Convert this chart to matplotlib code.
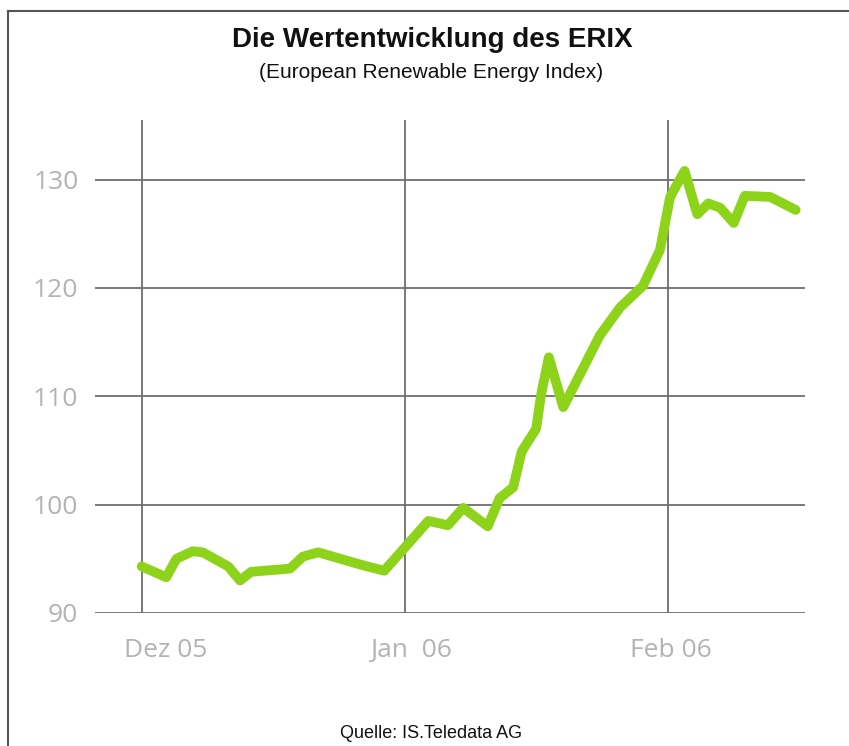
import matplotlib
matplotlib.use("Agg")
import matplotlib.pyplot as plt
from matplotlib.transforms import ScaledTranslation
from matplotlib.lines import Line2D

# ---- data (days since 1 Dec 2005, ERIX index value) ----
days = [0, 2.9, 4.1, 6.0, 7.2, 10.2, 11.6, 12.9, 17.5, 19.0, 20.8, 26.1, 28.6,
        33.8, 36.1, 37.9, 40.8, 42.2, 43.8, 44.8, 46.5, 47.1, 48.0, 49.7,
        54.0, 56.4, 59.1, 61.1, 62.3, 64.0, 65.5, 66.8, 68.2, 69.8, 71.1,
        74.1, 77.1]
values = [94.3, 93.3, 95.0, 95.7, 95.6, 94.3, 93.0, 93.8, 94.1, 95.2, 95.6,
          94.4, 93.9,
          98.5, 98.1, 99.7, 98.0, 100.6, 101.6, 104.9, 107.0, 110.2, 113.6,
          109.0,
          115.6, 118.2, 120.2, 123.5, 128.4, 130.8, 126.8, 127.8, 127.4,
          126.0, 128.5, 128.4, 127.2]
x_ticks = [0, 31, 62]
x_labels = ["Dez 05", "Jan  06", "Feb 06"]
y_ticks = [90, 100, 110, 120, 130]

title = "Die Wertentwicklung des ERIX"
subtitle = "(European Renewable Energy Index)"
source = "Quelle: IS.Teledata AG"

cond = ["Liberation Sans", "DejaVu Sans"]
light = ["Open Sans", "DejaVu Sans"]

fig = plt.figure(figsize=(8.49, 7.46), dpi=100)
ax = fig.add_axes([95 / 849, 1 - 613 / 746, 710 / 849, 493 / 746])

ax.plot(days, values, color="#8cd31a", lw=7, solid_joinstyle="round",
        solid_capstyle="round", zorder=3)

ax.set_xlim(-5.5, 78.2)
ax.set_ylim(90, 135.5)
ax.set_xticks(x_ticks)
ax.set_xticklabels(x_labels)
ax.set_yticks(y_ticks)
ax.grid(True, color="#6e6e6e", lw=1.3)
for s in ax.spines.values():
    s.set_visible(False)
ax.tick_params(length=0, labelsize=19, labelcolor="#b3b3b3")
ax.tick_params(axis="y", pad=12)
ax.tick_params(axis="x", pad=18)
for lab in ax.get_xticklabels() + ax.get_yticklabels():
    lab.set_family(light)
offs = [24, 6, 3]
for lab, dx in zip(ax.get_xticklabels(), offs):
    lab.set_transform(lab.get_transform() + ScaledTranslation(dx / 100, 0, fig.dpi_scale_trans))

fig.text(432 / 849, 1 - 40 / 746, title, ha="center", va="center",
         fontsize=20, fontweight="bold", family=cond, color="#111111")
fig.text(431 / 849, 1 - 73 / 746, subtitle, ha="center", va="center",
         fontsize=15, family=cond, color="#111111")
fig.text(431 / 849, 1 - 733 / 746, source, ha="center", va="center",
         fontsize=13, family=cond, color="#111111")

# scanned frame (top and left edges)
fig.add_artist(Line2D([8 / 849, 1.0], [1 - 11 / 746, 1 - 11 / 746],
                      transform=fig.transFigure, color="#555555", lw=1.5))
fig.add_artist(Line2D([8 / 849, 8 / 849], [0, 1 - 11 / 746],
                      transform=fig.transFigure, color="#555555", lw=1.5))

fig.savefig("out.png", dpi=100)
